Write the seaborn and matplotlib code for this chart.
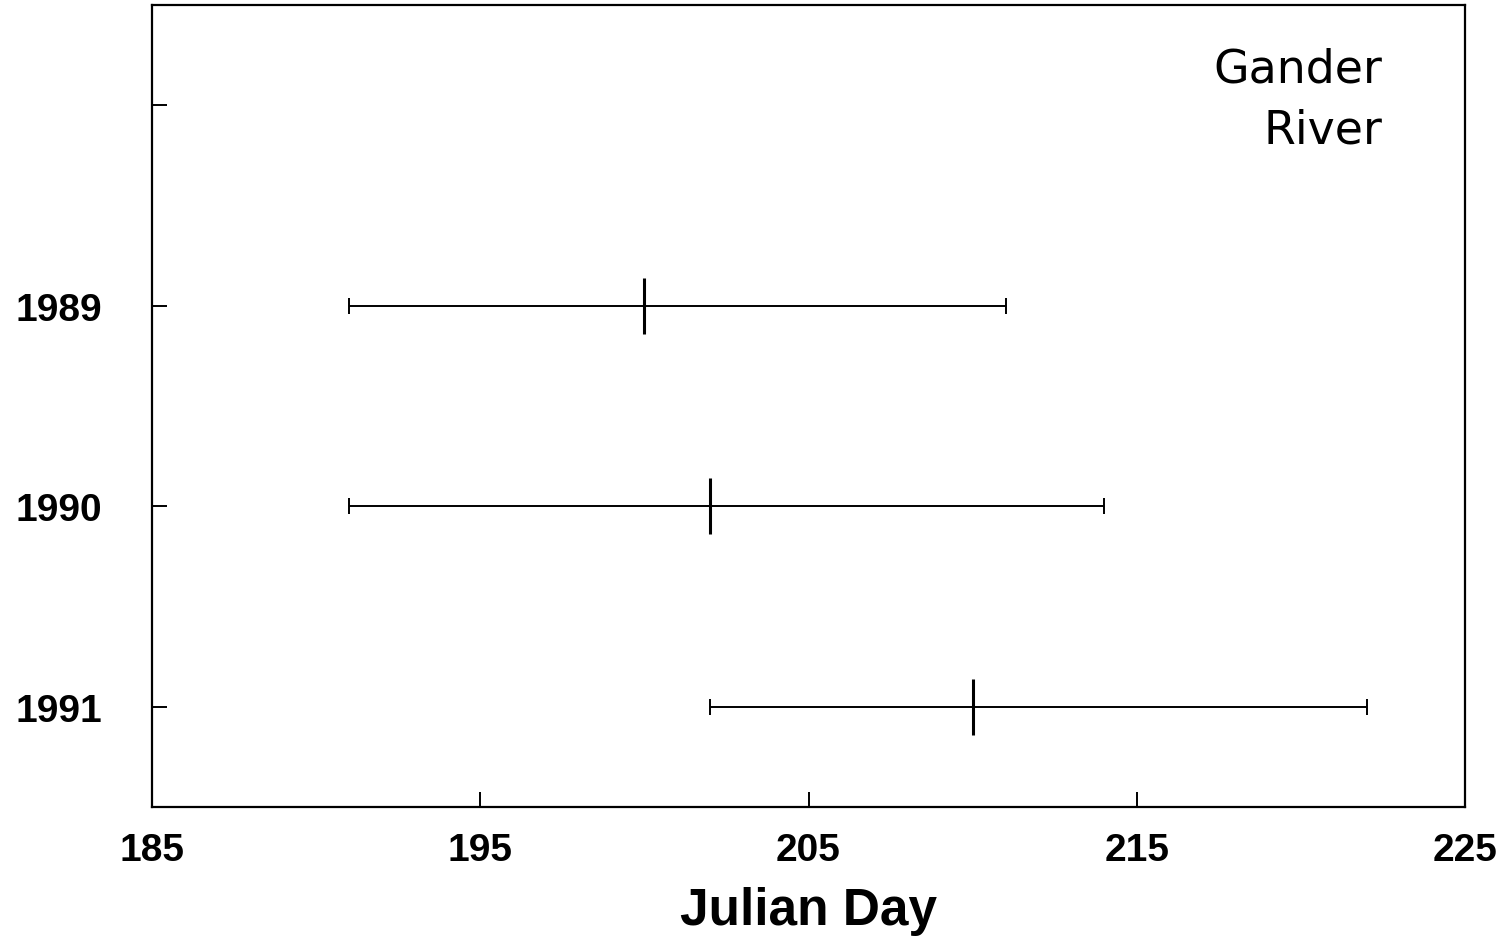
import pandas as pd
import matplotlib
matplotlib.use("Agg")
import matplotlib.pyplot as plt
import seaborn as sns

years = ["1989", "1990", "1991"]
first_day = [191, 191, 202]
median_day = [200, 202, 210]
last_day = [211, 214, 222]

df = pd.DataFrame({"Year": years, "First": first_day, "Median": median_day, "Last": last_day})
df["pos"] = range(1, len(df) + 1)

sns.set_style("ticks")
plt.rcParams["font.family"] = ["Liberation Sans", "DejaVu Sans"]
for key in ["text.color", "axes.labelcolor", "xtick.color", "ytick.color", "axes.edgecolor"]:
    plt.rcParams[key] = "black"

fig = plt.figure(figsize=(15.12, 9.45), dpi=100)
ax = fig.add_axes([0.1005, 0.145, 0.8685, 0.8487])

# range bars with end caps
ax.errorbar(x=df["Median"], y=df["pos"],
            xerr=[df["Median"] - df["First"], df["Last"] - df["Median"]],
            fmt="none", ecolor="black", elinewidth=1.4, capsize=6, capthick=1.4)

# median marks
sns.scatterplot(data=df, x="Median", y="pos", marker="|", s=1680, color="black",
                linewidth=2.2, ax=ax, zorder=3)

ax.set_xlim(185, 225)
ax.set_ylim(3.5, -0.5)
ax.set_xticks([185, 195, 205, 215, 225])
ax.set_yticks([0] + list(df["pos"]))
ax.set_yticklabels([""] + years)

ax.tick_params(direction="in", length=11, width=1.4, labelsize=28)
ax.tick_params(axis="x", pad=18)
ax.tick_params(axis="y", pad=36)
for lbl in ax.get_xticklabels() + ax.get_yticklabels():
    lbl.set_fontweight("bold")

for s in ax.spines.values():
    s.set_linewidth(1.6)

ax.set_xlabel("Julian Day", fontsize=37, fontweight="bold", labelpad=13)
ax.set_ylabel("")

ax.text(0.9368, 0.904, "Gander", transform=ax.transAxes, ha="right", va="baseline",
        fontsize=33, family=["DejaVu Sans"])
ax.text(0.9368, 0.828, "River", transform=ax.transAxes, ha="right", va="baseline",
        fontsize=33, family=["DejaVu Sans"])

fig.savefig("out.png", dpi=100)
